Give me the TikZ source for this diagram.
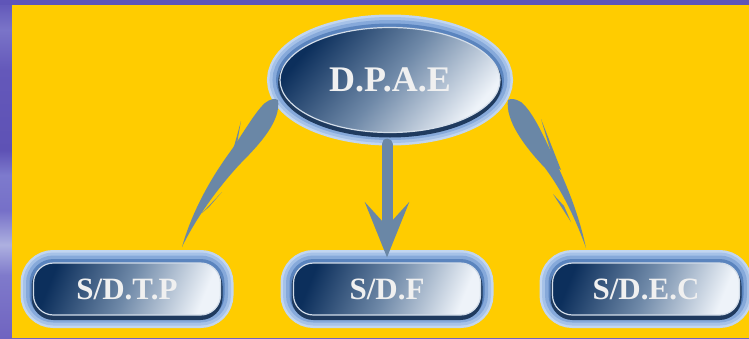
\documentclass[tikz,border=0pt]{standalone}
\usepackage{fontspec}
\setmainfont{Liberation Serif}
\usetikzlibrary{shapes.geometric,arrows.meta}
\definecolor{bgyellow}{HTML}{FFCC00}
\definecolor{pA}{HTML}{5F55B8}
\definecolor{pB}{HTML}{7A74C8}
\definecolor{pC}{HTML}{6458BA}
\definecolor{pD}{HTML}{5E52B5}
\definecolor{pE}{HTML}{7D7ACD}
\definecolor{pF}{HTML}{7670C8}
\definecolor{pG}{HTML}{ADB0E0}
\definecolor{pH}{HTML}{7F7ACB}
\definecolor{pI}{HTML}{7064C0}
\definecolor{glowA}{HTML}{C2D6F0}
\definecolor{glowA2}{HTML}{A6C2E8}
\definecolor{glowB}{HTML}{86A9DA}
\definecolor{glowC}{HTML}{5A84BE}
\definecolor{shadowc}{HTML}{1F3A5E}
\definecolor{navy}{HTML}{0C2F5C}
\definecolor{midblue}{HTML}{6F89A8}
\definecolor{pale}{HTML}{EEF3F9}
\definecolor{rimc}{HTML}{D3DDE9}
\definecolor{arrowc}{HTML}{6A87A6}
\definecolor{textc}{HTML}{F0F0F0}
\pgfdeclareverticalshading{stripshade}{100bp}{color(0bp)=(pI); color(25bp)=(pI); color(34.3bp)=(pH); color(38.8bp)=(pG); color(43.9bp)=(pF); color(49.1bp)=(pE); color(52.8bp)=(pD); color(64.6bp)=(pC); color(70.6bp)=(pB); color(75bp)=(pA); color(100bp)=(pA)}
\tikzset{
  glowing/.style={
    preaction={draw=glowA, line width=26pt},
    preaction={draw=glowA2, line width=21pt},
    preaction={draw=glowB, line width=15pt},
    preaction={draw=glowC, line width=8pt},
    preaction={fill=shadowc, draw=shadowc, line width=4pt, transform canvas={yshift=-3pt}}},
  body/.style={top color=navy, bottom color=pale, middle color=midblue, shading angle=#1, draw=rimc, line width=1.2pt, text=textc},
  boxnode/.style={rectangle, rounded corners=20pt, minimum width=187pt, minimum height=52pt,
    glowing, body=68, font=\bfseries\fontsize{31}{31}\selectfont},
  arrowfill/.style={fill=arrowc, draw=none}
}
\begin{document}
\begin{tikzpicture}[x=1pt, y=-1pt]
\useasboundingbox (0,0) rectangle (749,338);
\shade[shading=stripshade] (0,0) rectangle (749,338);
\fill[pA] (0,0) rectangle (749,5);
\fill[bgyellow] (12,5) rectangle (749,338);

\node[ellipse, minimum width=220pt, minimum height=105pt, glowing, body=50,
      font=\bfseries\fontsize{36}{36}\selectfont] (top) at (390,80) {D.P.A.E};

\node[boxnode] (tp) at (127,289) {S/D.T.P};
\node[boxnode] (f)  at (387,289) {S/D.F};
\node[boxnode] (ec) at (646,289) {S/D.E.C};

% centre arrow
\draw[arrowc, line width=11pt, line cap=round,
      -{Stealth[length=55pt, width=44pt, inset=24pt]}]
  ([yshift=-11pt]top.south -| f.north) -- ([yshift=5pt]f.north);

% left arrow
\path[arrowfill] (278,100) .. controls (281,120) and (262,142) .. (240,164)
  .. controls (216,190) and (195,220) .. (182,247)
  .. controls (191,215) and (208,182) .. (230,152)
  .. controls (244,132) and (255,112) .. (265,103)
  .. controls (270,99) and (275,98) .. cycle;
\path[arrowfill] (241,121) -- (227,172) -- (233,166) -- cycle;
\path[arrowfill] (202,213) -- (222,192) -- (209,207) -- cycle;

% right arrow
\path[arrowfill] (508,100) .. controls (505,120) and (524,146) .. (545,168)
  .. controls (563,192) and (576,220) .. (586,248)
  .. controls (579,215) and (567,185) .. (553,156)
  .. controls (543,135) and (533,112) .. (521,102)
  .. controls (516,99) and (511,98) .. cycle;
\path[arrowfill] (541,119) -- (561,170) -- (555,166) -- cycle;
\path[arrowfill] (553,194) -- (571,222) -- (564,206) -- cycle;
\end{tikzpicture}
\end{document}
